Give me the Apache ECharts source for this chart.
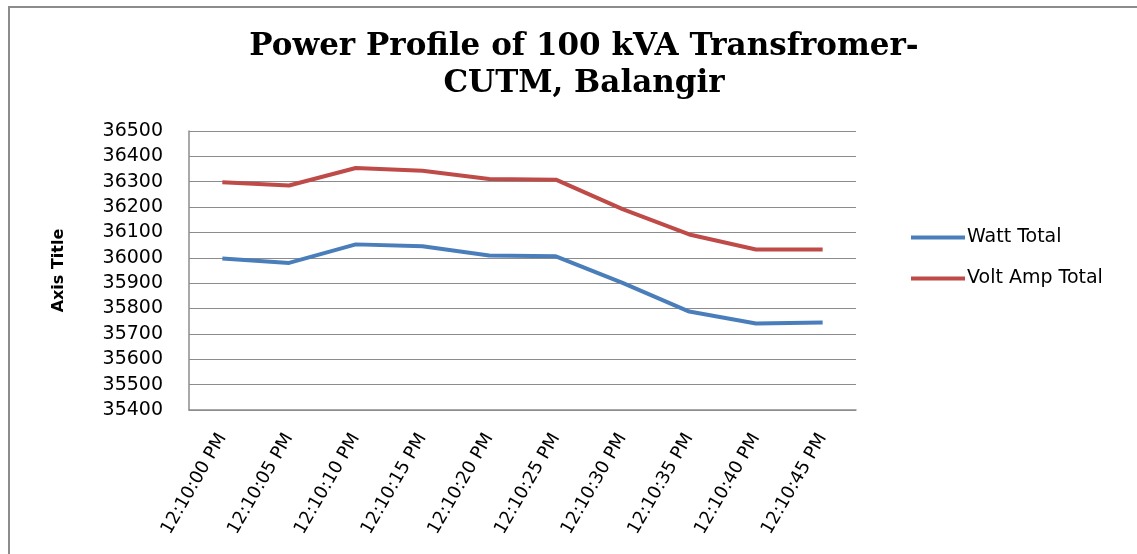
<!DOCTYPE html>
<html>
<head>
<meta charset="utf-8">
<title>Power Profile of 100 kVA Transfromer</title>
<script src="https://cdn.jsdelivr.net/npm/echarts@6/dist/echarts.min.js"></script>
<style>
  html, body { margin: 0; padding: 0; background: #fff; }
  #chart { width: 1137px; height: 554px; }
</style>
</head>
<body>
<div id="chart"></div>
<script>
// time stamps on the x axis
const times = ['12:10:00 PM', '12:10:05 PM', '12:10:10 PM', '12:10:15 PM', '12:10:20 PM',
               '12:10:25 PM', '12:10:30 PM', '12:10:35 PM', '12:10:40 PM', '12:10:45 PM'];
// series values
const wattTotal    = [35997, 35980, 36053, 36046, 36009, 36006, 35901, 35788, 35741, 35745];
const voltAmpTotal = [36298, 36285, 36354, 36343, 36311, 36308, 36192, 36092, 36033, 36033];
// y axis range
const yMin = 35400, yMax = 36500, yStep = 100;

const chart = echarts.init(document.getElementById('chart'));

chart.setOption({
    animation: false,
    backgroundColor: '#fff',
    // outer chart frame
    graphic: [{
        type: 'polyline',
        shape: { points: [[9, 560], [9, 7], [1140, 7]] },
        style: { stroke: '#8c8c8c', lineWidth: 2, fill: null }
    }],
    title: {
        text: 'Power Profile of 100 kVA Transfromer-\nCUTM, Balangir',
        left: 579,
        textAlign: 'center',
        top: 23,
        textStyle: {
            fontFamily: 'DejaVu Serif',
            fontWeight: 'bold',
            fontSize: 31,
            lineHeight: 37,
            color: '#000'
        }
    },
    legend: {
        orient: 'vertical',
        left: 906,
        top: 221,
        icon: 'rect',
        itemWidth: 54,
        itemHeight: 4,
        itemGap: 18,
        textStyle: { fontFamily: 'DejaVu Sans', fontSize: 19, color: '#000', lineHeight: 23, padding: [0, 0, 0, -3] },
        data: ['Watt Total', 'Volt Amp Total']
    },
    grid: { left: 189, right: 281, top: 131, bottom: 144 },
    xAxis: {
        type: 'category',
        data: times,
        boundaryGap: true,
        axisLine: { lineStyle: { color: '#8c8c8c', width: 1.5 } },
        axisTick: { show: false },
        axisLabel: {
            rotate: 60,
            margin: 25,
            interval: 0,
            fontFamily: 'DejaVu Sans',
            fontSize: 18,
            color: '#000'
        }
    },
    yAxis: {
        type: 'value',
        min: yMin,
        max: yMax,
        interval: yStep,
        name: 'Axis Title',
        nameLocation: 'middle',
        nameGap: 122,
        nameTextStyle: { fontFamily: 'DejaVu Sans', fontWeight: 'bold', fontSize: 16, color: '#000' },
        axisLine: { show: true, lineStyle: { color: '#8c8c8c', width: 1.5 } },
        axisTick: { show: false },
        axisLabel: {
            margin: 26,
            fontFamily: 'DejaVu Sans',
            fontSize: 19,
            color: '#000',
            formatter: function (v) { return String(v); }
        },
        splitLine: { lineStyle: { color: '#8c8c8c', width: 1.2 } }
    },
    series: [
        {
            name: 'Watt Total',
            type: 'line',
            data: wattTotal,
            symbol: 'none',
            lineStyle: { color: '#4a7ebb', width: 4 },
            itemStyle: { color: '#4a7ebb' }
        },
        {
            name: 'Volt Amp Total',
            type: 'line',
            data: voltAmpTotal,
            symbol: 'none',
            lineStyle: { color: '#be4b48', width: 4 },
            itemStyle: { color: '#be4b48' }
        }
    ]
});
</script>
</body>
</html>
